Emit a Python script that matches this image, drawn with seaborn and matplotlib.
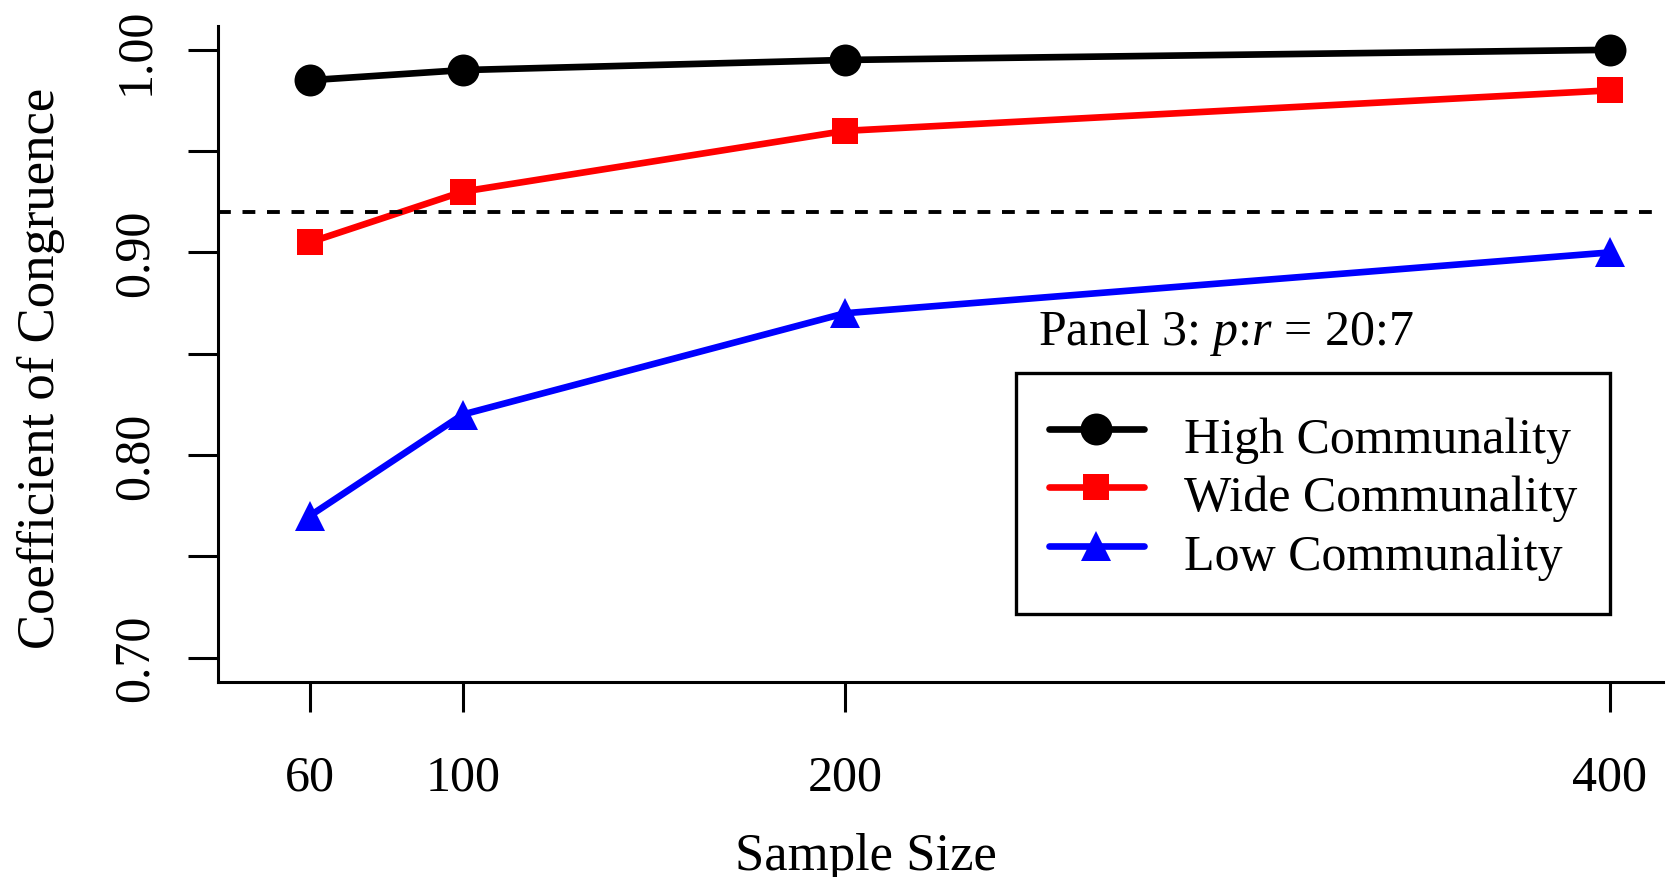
import pandas as pd
import matplotlib.pyplot as plt
import seaborn as sns

# Данные
sample_size = [60, 100, 200, 400]
high_comm = [0.985, 0.990, 0.995, 1.000]
wide_comm = [0.905, 0.930, 0.960, 0.980]
low_comm = [0.770, 0.820, 0.870, 0.900]
series_names = ["High Communality", "Wide Communality", "Low Communality"]
cutoff = 0.92
y_ticks = [0.70, 0.75, 0.80, 0.85, 0.90, 0.95, 1.00]
y_ticklabels = ["0.70", "", "0.80", "", "0.90", "", "1.00"]

df = pd.DataFrame({
    "n": sample_size * 3,
    "cc": high_comm + wide_comm + low_comm,
    "group": [g for g in series_names for _ in sample_size],
})

sns.set_style("ticks")
plt.rcParams["font.family"] = ["Liberation Serif", "DejaVu Serif"]
plt.rcParams["mathtext.fontset"] = "custom"
plt.rcParams["mathtext.rm"] = "Liberation Serif"
plt.rcParams["mathtext.it"] = "Liberation Serif:italic"
for key in ["text.color", "axes.labelcolor", "xtick.color", "ytick.color",
            "axes.edgecolor"]:
    plt.rcParams[key] = "black"

fig = plt.figure(figsize=(16.66, 8.78), dpi=100)
ax = fig.add_axes([0.1309, 0.2221, 0.8674, 0.7477])

sns.lineplot(
    data=df, x="n", y="cc", hue="group", style="group",
    hue_order=series_names, style_order=series_names,
    palette={"High Communality": "black", "Wide Communality": "#ff0000",
             "Low Communality": "#0000ff"},
    markers={"High Communality": "o", "Wide Communality": "s",
             "Low Communality": "^"},
    dashes=False, linewidth=4.8, markersize=23, markeredgewidth=0,
    legend=False, ax=ax, clip_on=False,
)
# размеры маркеров по типу
for ln, ms in zip(ax.lines[:3], [23, 18.5, 22]):
    ln.set_markersize(ms)
    ln.set_linewidth(4.8)
handles = list(ax.lines[:3])

ax.axhline(cutoff, color="black", linewidth=2.8, linestyle=(0, (3.3, 3)))

ax.set_xlim(36, 414)
ax.set_ylim(0.688, 1.012)
ax.set_xticks(sample_size)
ax.set_xticklabels([str(v) for v in sample_size], fontsize=36)
ax.set_yticks(y_ticks)
ax.set_yticklabels(y_ticklabels, fontsize=36, rotation=90, va="center")
ax.tick_params(axis="both", direction="out", length=21.5, width=2.2, color="black")
ax.tick_params(axis="x", pad=30)
ax.tick_params(axis="y", pad=21)

sns.despine(ax=ax)
for s in ["left", "bottom"]:
    ax.spines[s].set_linewidth(2.2)

ax.set_xlabel("Sample Size", fontsize=38)
ax.set_ylabel("Coefficient of Congruence", fontsize=38)
ax.xaxis.set_label_coords(0.4484, -0.2285)
ax.yaxis.set_label_coords(-0.1059, 0.4798)

ax.text(0.5675, 0.5149, "Panel 3: $p$:$r$ = 20:7", transform=ax.transAxes,
        fontsize=36, ha="left", va="baseline")

leg = ax.legend(
    handles, series_names, loc="upper right", bbox_to_anchor=(0.9633, 0.4707),
    borderaxespad=0, fontsize=36, frameon=True, fancybox=False, framealpha=1,
    edgecolor="black", handlelength=1.9, handletextpad=0.8, labelspacing=0.0,
    handleheight=1.42, borderpad=0.66,
)
leg.get_frame().set_linewidth(2.4)

fig.savefig("out.png", dpi=100)
